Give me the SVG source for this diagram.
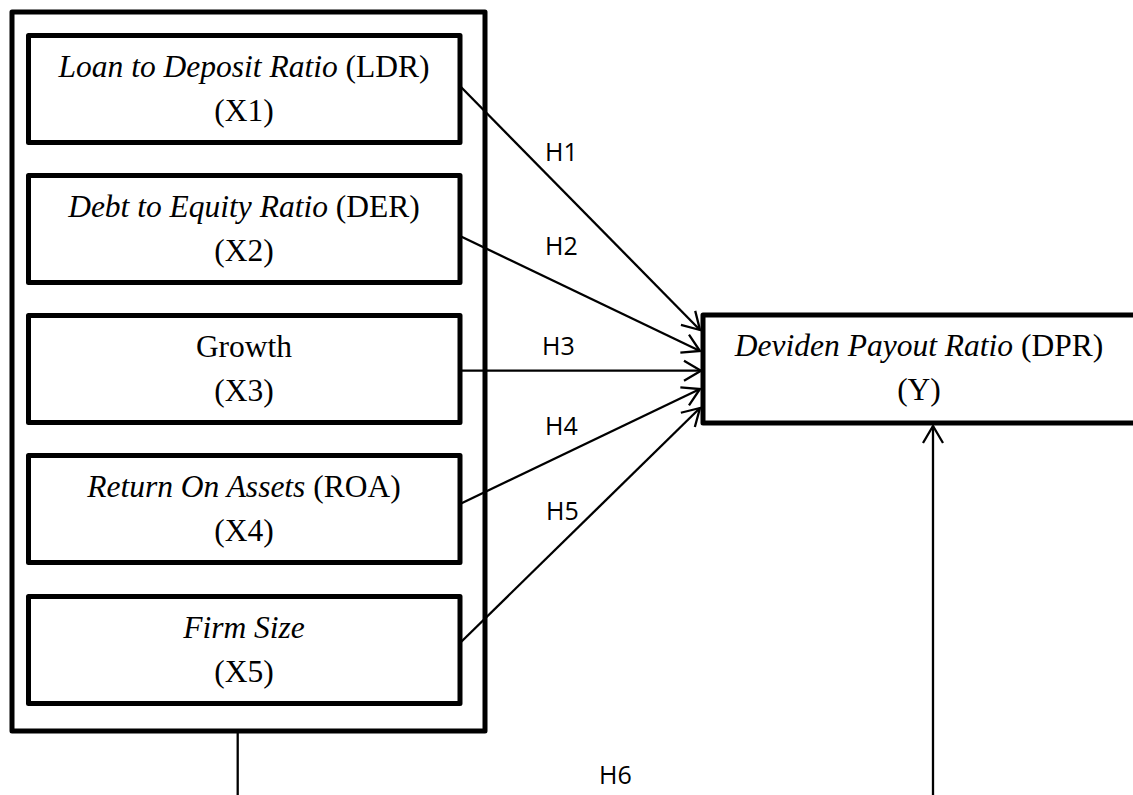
<svg xmlns="http://www.w3.org/2000/svg" width="1133" height="795" viewBox="0 0 1133 795">
<style>
.box{fill:#fff;stroke:#000;stroke-width:5;stroke-linejoin:round}
.t{font-family:"Liberation Serif","Times New Roman",serif;font-size:31.5px;fill:#000;text-anchor:middle}
.i{font-style:italic}
.lbl{font-family:"Open Sans","Liberation Sans",sans-serif;font-size:25px;fill:#000}
.c{stroke:#000;stroke-width:2.3;fill:none}
</style>
<defs>
<marker id="ah" markerUnits="userSpaceOnUse" markerWidth="40" markerHeight="40" refX="0" refY="0" orient="auto" overflow="visible">
<path d="M-17,-10 L0,0 L-17,10" fill="none" stroke="#000" stroke-width="2.3" stroke-linejoin="miter"/>
</marker>
</defs>
<rect width="1133" height="795" fill="#fff"/>
<g id="group-x">
<rect class="box" x="12" y="12" width="473" height="719"/>
</g>
<g id="x1">
<rect class="box" x="28.5" y="35.5" width="431.5" height="107"/>
<text class="t" x="244" y="77"><tspan class="i">Loan to Deposit Ratio</tspan> (LDR)</text>
<text class="t" x="244" y="121">(X1)</text>
</g>
<g id="x2">
<rect class="box" x="28.5" y="175.5" width="431.5" height="107"/>
<text class="t" x="244" y="217"><tspan class="i">Debt to Equity Ratio</tspan> (DER)</text>
<text class="t" x="244" y="261">(X2)</text>
</g>
<g id="x3">
<rect class="box" x="28.5" y="315.5" width="431.5" height="107"/>
<text class="t" x="244" y="357">Growth</text>
<text class="t" x="244" y="401">(X3)</text>
</g>
<g id="x4">
<rect class="box" x="28.5" y="455.5" width="431.5" height="107"/>
<text class="t" x="244" y="497"><tspan class="i">Return On Assets</tspan> (ROA)</text>
<text class="t" x="244" y="541">(X4)</text>
</g>
<g id="x5">
<rect class="box" x="28.5" y="596.5" width="431.5" height="107"/>
<text class="t i" x="244" y="638">Firm Size</text>
<text class="t" x="244" y="682">(X5)</text>
</g>
<g id="y">
<rect class="box" x="703" y="315" width="500" height="108"/>
<text class="t" x="919" y="356"><tspan class="i">Deviden Payout Ratio</tspan> (DPR)</text>
<text class="t" x="919" y="400">(Y)</text>
</g>
<g id="connectors">
<line class="c" x1="460" y1="86" x2="700" y2="330" marker-end="url(#ah)"/>
<line class="c" x1="460" y1="236" x2="700" y2="351" marker-end="url(#ah)"/>
<line class="c" x1="460" y1="370.7" x2="701" y2="370.7" marker-end="url(#ah)"/>
<line class="c" x1="460" y1="504" x2="700" y2="389" marker-end="url(#ah)"/>
<line class="c" x1="460" y1="643" x2="700" y2="408" marker-end="url(#ah)"/>
<line class="c" x1="237.7" y1="733" x2="237.7" y2="795"/>
<line class="c" x1="933" y1="795" x2="933" y2="426" marker-end="url(#ah)"/>
</g>
<g id="labels">
<text class="lbl" x="545" y="161">H1</text>
<text class="lbl" x="545" y="255">H2</text>
<text class="lbl" x="542" y="355">H3</text>
<text class="lbl" x="545" y="435">H4</text>
<text class="lbl" x="546" y="520">H5</text>
<text class="lbl" x="599" y="784">H6</text>
</g>
</svg>
